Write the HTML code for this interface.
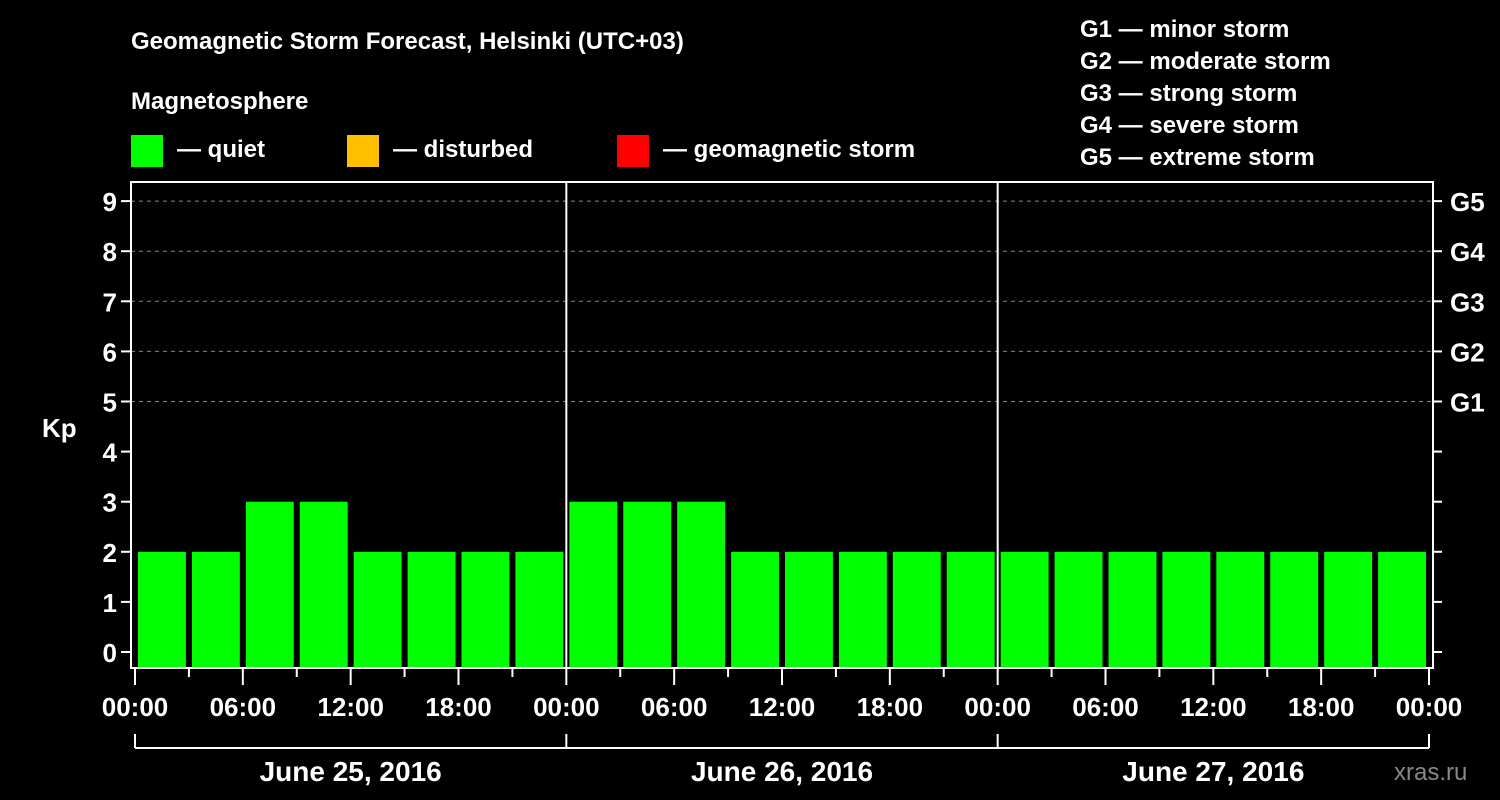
<!DOCTYPE html>
<html><head><meta charset="utf-8"><style>
html,body{margin:0;padding:0;background:#000;}
svg{display:block;font-family:"Liberation Sans",Arial,sans-serif;font-weight:bold;}
</style></head><body>
<svg id="chart" width="1500" height="800" viewBox="0 0 1500 800">
<rect x="0" y="0" width="1500" height="800" fill="#000"/>
<text x="131" y="49" fill="#fff" font-size="24">Geomagnetic Storm Forecast, Helsinki (UTC+03)</text>
<text x="131" y="109" fill="#fff" font-size="24">Magnetosphere</text>
<g><rect x="131" y="135" width="32" height="32" fill="#00ff00"/><text x="177" y="157" fill="#fff" font-size="24">— quiet</text></g>
<g><rect x="347" y="135" width="32" height="32" fill="#ffc000"/><text x="393" y="157" fill="#fff" font-size="24">— disturbed</text></g>
<g><rect x="617" y="135" width="32" height="32" fill="#ff0000"/><text x="663" y="157" fill="#fff" font-size="24">— geomagnetic storm</text></g>
<g fill="#fff" font-size="24">
<text x="1080" y="37">G1 — minor storm</text>
<text x="1080" y="69">G2 — moderate storm</text>
<text x="1080" y="101">G3 — strong storm</text>
<text x="1080" y="133">G4 — severe storm</text>
<text x="1080" y="165">G5 — extreme storm</text>
</g>
<g id="grid"></g>
<g id="bars"></g>
<g id="axes"></g>
<text x="42" y="437" fill="#fff" font-size="26">Kp</text>
<text x="1394" y="780" fill="#888" font-size="24" font-weight="normal">xras.ru</text>
</svg>
<script>
const kpValues=[2,2,3,3,2,2,2,2, 3,3,3,2,2,2,2,2, 2,2,2,2,2,2,2,2];
const dayLabels=["June 25, 2016","June 26, 2016","June 27, 2016"];
const timeLabels=["00:00","06:00","12:00","18:00"];
const yTicks=[0,1,2,3,4,5,6,7,8,9];
const gLabels=["G1","G2","G3","G4","G5"];
const gLevels=[5,6,7,8,9];

const NS="http://www.w3.org/2000/svg";
const L=131,R=1433,T=182,B=668,X0=135,X1=1429;
const slotW=(X1-X0)/kpValues.length;
function xs(i){return X0+i*slotW;}
function ys(v){return 652-v*50.1;}
function mk(tag,attrs,parent){const e=document.createElementNS(NS,tag);for(const k in attrs)e.setAttribute(k,attrs[k]);parent.appendChild(e);return e;}
const grid=document.getElementById('grid'),bars=document.getElementById('bars'),axes=document.getElementById('axes');
gLevels.forEach((lv,i)=>{
  const l=mk('line',{x1:L,x2:R,y1:ys(lv),y2:ys(lv),stroke:'#888','stroke-dasharray':'4,4','stroke-width':1},grid);
  
  
  const t=mk('text',{x:1450,y:ys(lv)+10,fill:'#fff','font-size':26},axes);
  t.textContent=gLabels[i];
  
  
});
kpValues.forEach((v,i)=>{
  const c=v>=5?'#ff0000':(v>=4?'#ffc000':'#00ff00');
  const r=mk('rect',{x:xs(i)+3,y:ys(v),width:slotW-6,height:B-ys(v),fill:c},bars);
  
  
});
mk('rect',{x:L,y:T,width:R-L,height:B-T,fill:'none',stroke:'#fff','stroke-width':2},axes);
for(let d=1;d<dayLabels.length;d++){
  const x=xs(d*8);
  mk('line',{x1:x,x2:x,y1:T,y2:B,stroke:'#fff','stroke-width':2},axes);
}
yTicks.forEach(v=>{
  mk('line',{x1:L-10,x2:L,y1:ys(v),y2:ys(v),stroke:'#fff','stroke-width':2},axes);
  mk('line',{x1:R,x2:R+9,y1:ys(v),y2:ys(v),stroke:'#fff','stroke-width':2},axes);
  const t=mk('text',{x:L-14,y:ys(v)+10,fill:'#fff','font-size':26,'text-anchor':'end'},axes);
  t.textContent=v;
  
  
});
for(let i=0;i<=kpValues.length;i++){
  const x=xs(i),major=i%2===0;
  mk('line',{x1:x,x2:x,y1:B,y2:B+(major?17:9),stroke:'#fff','stroke-width':2},axes);
  if(major){
    const t=mk('text',{x:x,y:716,fill:'#fff','font-size':26,'text-anchor':'middle'},axes);
    t.textContent=timeLabels[(i/2)%4];
    
    
  }
}
mk('line',{x1:X0,x2:X1,y1:748,y2:748,stroke:'#fff','stroke-width':2},axes);
for(let d=0;d<=dayLabels.length;d++){
  const x=xs(d*8);
  mk('line',{x1:x,x2:x,y1:734,y2:748,stroke:'#fff','stroke-width':2},axes);
}
dayLabels.forEach((s,d)=>{
  const t=mk('text',{x:(xs(d*8)+xs(d*8+8))/2,y:781,fill:'#fff','font-size':28,'text-anchor':'middle'},axes);
  t.textContent=s;
  
  
});
</script>
</body></html>
